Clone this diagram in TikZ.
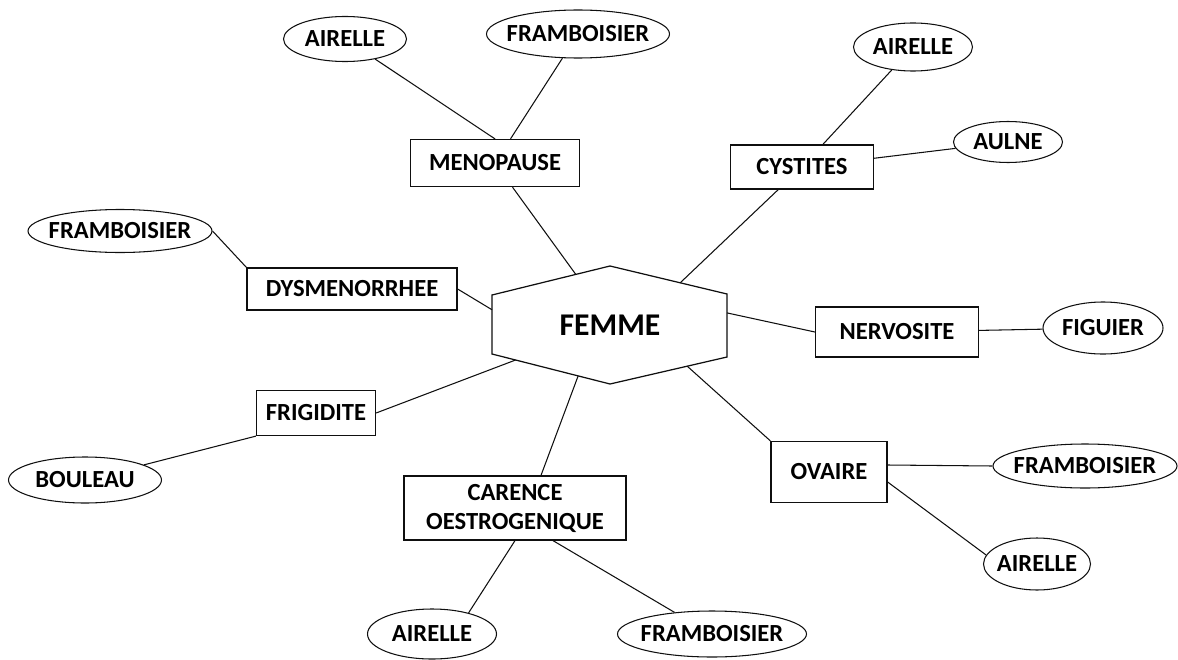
\documentclass[tikz,border=0pt]{standalone}
\usepackage{fontspec}
\setmainfont{Carlito}
\usetikzlibrary{shapes.geometric,calc}
\definecolor{ink}{RGB}{15,15,15}
\newcommand{\herb}[1]{\makebox[0pt]{#1}}
\tikzset{
  box/.style={draw=ink,line width=0.7pt,align=center,inner sep=2pt,
    font=\bfseries\fontsize{14}{16.5}\selectfont},
  plant/.style={ellipse,draw=ink,line width=0.6pt,inner sep=0pt,
    font=\bfseries\fontsize{14}{16}\selectfont},
  hub/.style={draw=ink,line width=0.7pt},
  link/.style={draw=ink,line width=0.6pt},
}
\begin{document}
\begin{tikzpicture}
    \useasboundingbox (0,0) rectangle (23.56,13.18);
    % hub
    \coordinate (hT) at (12.20,7.86);
    \coordinate (hUR) at (14.54,7.30);
    \coordinate (hLR) at (14.54,6.04);
    \coordinate (hB) at (12.20,5.50);
    \coordinate (hLL) at (9.84,6.10);
    \coordinate (hUL) at (9.84,7.28);
    \draw[hub] (hT) -- (hUR) -- (hLR) -- (hB) -- (hLL) -- (hUL) -- cycle;
    \node[font=\bfseries\fontsize{18}{20}\selectfont] (femme) at (12.20,6.68) {FEMME};
    \coordinate (f-meno) at ($(hUL)!0.71!(hT)$);
    \coordinate (f-cyst) at ($(hT)!0.6!(hUR)$);
    \coordinate (f-dysm) at ($(hUL)!0.25!(hLL)$);
    \coordinate (f-nerv) at ($(hUR)!0.3!(hLR)$);
    \coordinate (f-frig) at ($(hLL)!0.2!(hB)$);
    \coordinate (f-care) at ($(hLL)!0.73!(hB)$);
    \coordinate (f-ovai) at ($(hB)!0.66!(hLR)$);
    % troubles
    \node[box,minimum width=3.38cm,minimum height=0.94cm] (meno) at (9.90,9.92) {MENOPAUSE};
    \node[box,minimum width=2.86cm,minimum height=0.88cm] (cyst) at (16.04,9.84) {CYSTITES};
    \node[box,minimum width=4.20cm,minimum height=0.84cm] (dysm) at (7.04,7.40) {DYSMENORRHEE};
    \node[box,minimum width=3.26cm,minimum height=1.00cm] (nerv) at (17.94,6.54) {NERVOSITE};
    \node[box,minimum width=2.38cm,minimum height=0.90cm] (frig) at (6.32,4.92) {FRIGIDITE};
    \node[box,minimum width=2.32cm,minimum height=1.22cm] (ovai) at (16.58,3.74) {OVAIRE};
    \node[box,minimum width=4.44cm,minimum height=1.28cm] (care) at (10.30,3.02) {CARENCE\\OESTROGENIQUE};
    % plantes
    \node[plant,minimum width=2.46cm,minimum height=0.90cm] (meno-air) at (6.90,12.40) {\herb{AIRELLE}};
    \node[plant,minimum width=3.66cm,minimum height=0.96cm] (meno-fra) at (11.56,12.50) {\herb{FRAMBOISIER}};
    \node[plant,minimum width=3.68cm,minimum height=0.86cm] (dysm-fra) at (2.40,8.56) {\herb{FRAMBOISIER}};
    \node[plant,minimum width=2.38cm,minimum height=0.96cm] (cyst-air) at (18.26,12.24) {\herb{AIRELLE}};
    \node[plant,minimum width=2.18cm,minimum height=0.82cm] (cyst-aul) at (20.16,10.34) {\herb{AULNE}};
    \node[plant,minimum width=2.40cm,minimum height=1.04cm] (nerv-fig) at (22.06,6.62) {\herb{FIGUIER}};
    \node[plant,minimum width=3.06cm,minimum height=0.92cm] (frig-bou) at (1.70,3.58) {\herb{BOULEAU}};
    \node[plant,minimum width=3.68cm,minimum height=0.88cm] (ovai-fra) at (21.70,3.86) {\herb{FRAMBOISIER}};
    \node[plant,minimum width=2.14cm,minimum height=1.04cm] (ovai-air) at (20.74,1.90) {\herb{AIRELLE}};
    \node[plant,minimum width=2.58cm,minimum height=1.00cm] (care-air) at (8.64,0.50) {\herb{AIRELLE}};
    \node[plant,minimum width=3.78cm,minimum height=0.92cm] (care-fra) at (14.24,0.50) {\herb{FRAMBOISIER}};
    % liens
    \draw[link] (meno) -- (f-meno);
    \draw[link] (cyst) -- (f-cyst);
    \draw[link] (dysm.east) -- (f-dysm);
    \draw[link] (f-nerv) -- (nerv.west);
    \draw[link] (frig.east) -- (f-frig);
    \draw[link] (f-care) -- ([xshift=5.2mm]care.north);
    \draw[link] (f-ovai) -- (ovai.north west);
    \draw[link] (meno-air) -- (meno.north);
    \draw[link] (meno-fra) -- (meno);
    \draw[link] (cyst-air) -- (cyst);
    \draw[link] (cyst) -- (cyst-aul);
    \draw[link] (dysm-fra.east) -- (dysm.north west);
    \draw[link] (nerv) -- (nerv-fig);
    \draw[link] (frig-bou) -- (frig.south west);
    \draw[link] (care.south) -- (care-air.30);
    \draw[link] ([xshift=7.6mm]care.south) -- (care-fra.150);
    \draw[link] ([yshift=1.4mm]ovai.east) -- (ovai-fra.west);
    \draw[link] ([yshift=-2mm]ovai.east) -- (ovai-air.170);
\end{tikzpicture}
\end{document}
